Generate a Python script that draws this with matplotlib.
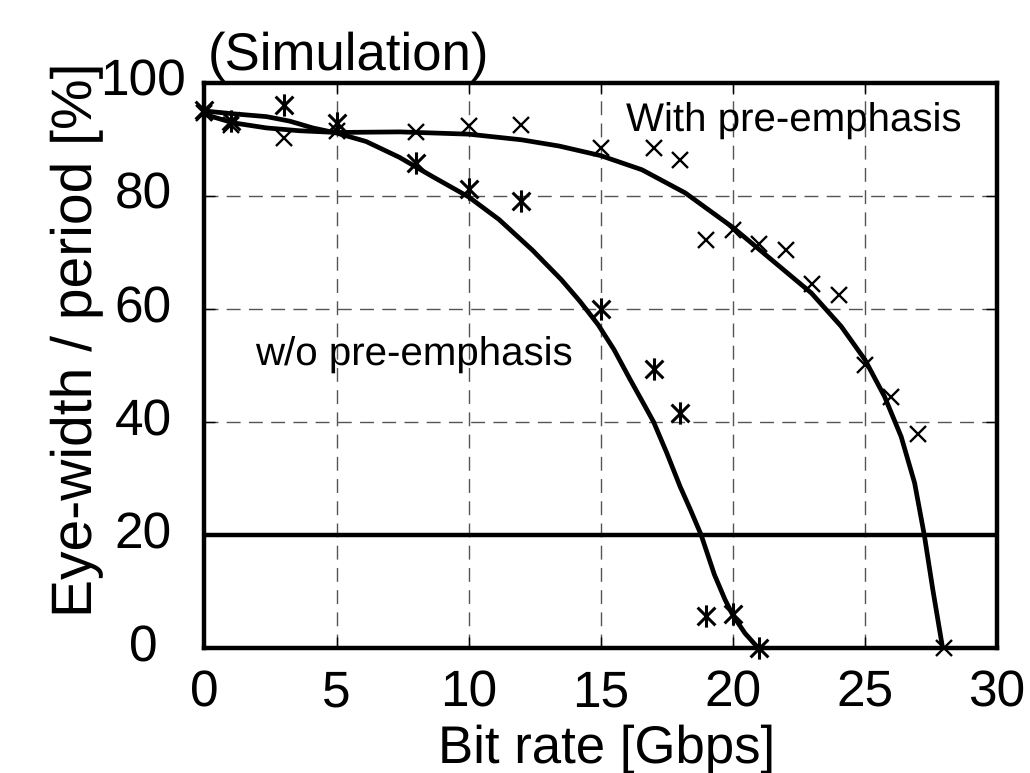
import matplotlib
matplotlib.use('Agg')
import matplotlib.pyplot as plt
import matplotlib.transforms as mtransforms
from matplotlib.path import Path

plt.rcParams['font.family'] = ['Liberation Sans', 'DejaVu Sans']
plt.rcParams['text.hinting'] = 'no_hinting'

# measured points (bit rate in Gbps, eye-width / period in %)
rate_wo = [0, 1, 3, 5, 8, 10, 12, 15, 17, 18, 19, 20, 21]
eye_wo = [95.2, 93.2, 96.1, 92.9, 85.8, 81.2, 79.1, 60.0, 49.3, 41.5, 5.7, 6.1, 0.0]

rate_pe = [0, 1, 3, 5, 8, 10, 12, 15, 17, 18, 19, 20, 21, 22, 23, 24, 25, 26, 27, 28]
eye_pe = [94.6, 92.6, 90.2, 91.4, 91.2, 92.3, 92.6, 88.4, 88.4, 86.4,
          72.2, 74.0, 71.5, 70.4, 64.4, 62.5, 50.1, 44.4, 37.9, 0.0]

# fitted curves
fit_wo_x = [0.0, 1.09, 2.35, 3.23, 4.1, 5.0, 6.12, 7.38, 8.63, 10.0, 11.15, 12.41,
            13.5, 14.2, 14.9, 15.5, 16.1, 16.6, 17.0, 17.5, 18.0, 18.4, 18.8,
            19.3, 19.7, 20.0, 20.46, 20.96]
fit_wo_y = [95.0, 94.5, 94.0, 93.2, 92.0, 91.1, 89.6, 86.8, 83.4, 79.8, 75.8, 70.4,
            65.2, 61.4, 57.2, 52.8, 47.6, 43.4, 40.0, 34.5, 28.6, 24.4, 20.0,
            13.0, 8.6, 5.8, 2.6, 0.0]

fit_pe_x = [0.0, 1.09, 2.35, 3.6, 5.0, 7.4, 10.0, 12.0, 13.42, 15.0, 16.56, 18.2,
            20.0, 21.46, 22.97, 24.1, 25.0, 25.74, 26.37, 26.88, 27.25, 27.57, 27.94]
fit_pe_y = [94.4, 92.9, 92.0, 91.5, 91.2, 91.3, 90.9, 89.9, 88.8, 87.1, 84.6, 80.5,
            74.4, 68.7, 62.8, 56.9, 51.0, 44.5, 37.4, 29.2, 19.9, 10.3, 0.0]

threshold = 20

xticks = [0, 5, 10, 15, 20, 25, 30]
yticks = [0, 20, 40, 60, 80, 100]

# six-armed asterisk like the gnuplot point
star = Path([(0, -1), (0, 1), (-0.8, -0.8), (0.8, 0.8), (-0.8, 0.8), (0.8, -0.8)],
            [Path.MOVETO, Path.LINETO] * 3)

fig = plt.figure(figsize=(10.3, 7.73), dpi=100)
ax = fig.add_axes([0.1985, 0.1617, 0.7695, 0.7313])

ax.plot(fit_wo_x, fit_wo_y, color='black', lw=3.4, solid_joinstyle='round', zorder=3)
ax.plot(fit_pe_x, fit_pe_y, color='black', lw=3.4, solid_joinstyle='round', zorder=3)
ax.axhline(threshold, color='black', lw=3.2, zorder=3)

ax.plot(rate_wo, eye_wo, ls='none', marker=star, ms=16, mew=2.2, color='black',
        clip_on=False, zorder=4)
ax.plot(rate_pe, eye_pe, ls='none', marker='x', ms=11, mew=1.7, color='black',
        clip_on=False, zorder=4)

ax.set_xlim(0, 30)
ax.set_ylim(0, 100)
ax.set_xticks(xticks)
ax.set_yticks(yticks)
ax.set_xticklabels([])
ax.set_yticklabels([])
ax.tick_params(axis='both', direction='in', length=8, width=1, top=True, right=True)

ax.grid(True, color='#555555', lw=1.0, ls=(0, (10, 6)))
for s in ax.spines.values():
    s.set_linewidth(3.2)

# tick labels as plain text so they line up like the original
ytrans = mtransforms.blended_transform_factory(ax.transAxes, ax.transData)
for v in yticks:
    ax.text(-0.077, v, str(v), transform=ytrans, ha='center', va='center', fontsize=37)
xtrans = mtransforms.blended_transform_factory(ax.transData, ax.transAxes)
for v in xticks:
    ax.text(v, -0.1026, str(v), transform=xtrans, ha='center', va='baseline', fontsize=37)

ax.text(22.3, 93.1, 'With pre-emphasis', fontsize=29, ha='center', va='center')
ax.text(7.94, 51.7, 'w/o pre-emphasis', fontsize=29, ha='center', va='center')

fig.text(208 / 1030, 1 - 70 / 773, '(Simulation)', fontsize=38, ha='left', va='baseline')
fig.text(607 / 1030, 1 - 763 / 773, 'Bit rate [Gbps]', fontsize=38, ha='center', va='baseline')
fig.text(77 / 1030, 1 - 340 / 773, 'Eye-width / period [%]', fontsize=41,
         rotation=90, ha='center', va='center')

fig.savefig('out.png', dpi=100)
